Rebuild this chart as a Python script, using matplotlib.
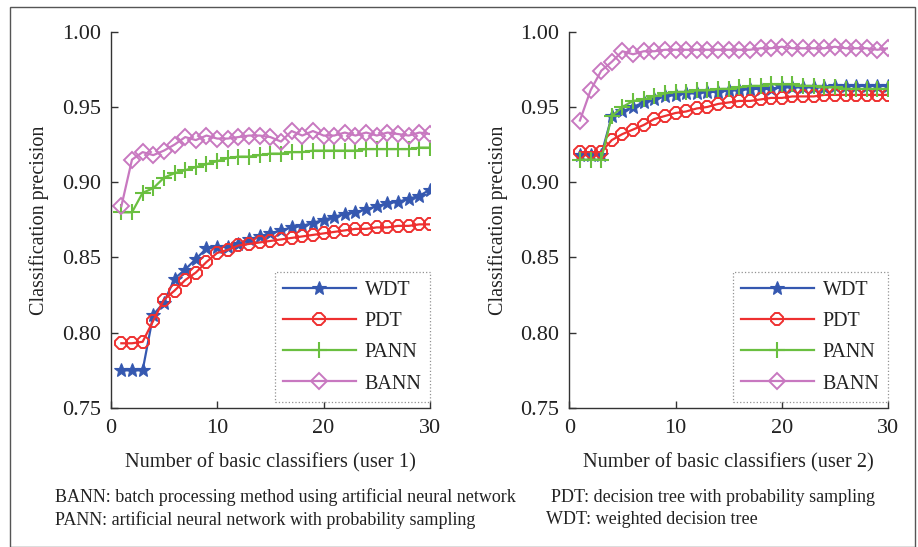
import matplotlib
matplotlib.use("Agg")
import matplotlib.pyplot as plt
from matplotlib.patches import Rectangle
from matplotlib.lines import Line2D

x = list(range(1, 31))

# User 1
wdt1 = [0.775, 0.775, 0.775, 0.812, 0.820, 0.836, 0.842, 0.849, 0.856, 0.857,
        0.857, 0.859, 0.862, 0.864, 0.866, 0.868, 0.870, 0.871, 0.873, 0.875,
        0.877, 0.879, 0.880, 0.882, 0.884, 0.886, 0.887, 0.889, 0.891, 0.895]
pdt1 = [0.793, 0.793, 0.794, 0.808, 0.822, 0.828, 0.835, 0.840, 0.847, 0.853,
        0.855, 0.858, 0.859, 0.860, 0.861, 0.862, 0.863, 0.864, 0.865, 0.866,
        0.867, 0.868, 0.869, 0.869, 0.870, 0.870, 0.871, 0.871, 0.872, 0.872]
pann1 = [0.880, 0.880, 0.893, 0.896, 0.903, 0.906, 0.908, 0.910, 0.912, 0.914,
         0.916, 0.917, 0.917, 0.918, 0.919, 0.919, 0.920, 0.920, 0.921, 0.921,
         0.921, 0.921, 0.921, 0.922, 0.922, 0.922, 0.922, 0.922, 0.923, 0.923]
bann1 = [0.884, 0.915, 0.920, 0.918, 0.921, 0.925, 0.930, 0.928, 0.931, 0.929,
         0.929, 0.930, 0.931, 0.931, 0.930, 0.927, 0.934, 0.931, 0.934, 0.931,
         0.931, 0.933, 0.931, 0.933, 0.931, 0.933, 0.932, 0.931, 0.933, 0.932]

# User 2
wdt2 = [0.918, 0.918, 0.918, 0.944, 0.947, 0.950, 0.953, 0.955, 0.957, 0.958,
        0.959, 0.959, 0.960, 0.960, 0.961, 0.961, 0.962, 0.962, 0.962, 0.963,
        0.963, 0.963, 0.963, 0.963, 0.964, 0.964, 0.964, 0.964, 0.964, 0.964]
pdt2 = [0.920, 0.920, 0.920, 0.928, 0.932, 0.935, 0.938, 0.942, 0.944, 0.946,
        0.947, 0.949, 0.950, 0.952, 0.953, 0.954, 0.954, 0.955, 0.956, 0.956,
        0.957, 0.957, 0.957, 0.958, 0.958, 0.958, 0.958, 0.958, 0.958, 0.958]
pann2 = [0.915, 0.915, 0.915, 0.944, 0.950, 0.954, 0.955, 0.957, 0.959, 0.960,
         0.960, 0.961, 0.961, 0.962, 0.962, 0.963, 0.964, 0.964, 0.965, 0.965,
         0.965, 0.964, 0.964, 0.963, 0.963, 0.962, 0.962, 0.962, 0.962, 0.962]
bann2 = [0.941, 0.961, 0.974, 0.980, 0.987, 0.985, 0.987, 0.987, 0.988, 0.988,
         0.988, 0.988, 0.988, 0.988, 0.988, 0.988, 0.988, 0.989, 0.989, 0.990,
         0.989, 0.989, 0.989, 0.989, 0.990, 0.989, 0.989, 0.989, 0.988, 0.989]

series_names = ["WDT", "PDT", "PANN", "BANN"]
colors = ["#3558b0", "#ee3030", "#6abf40", "#c878c0"]
markers = ["*", "8", "+", "D"]

yticks = [0.75, 0.80, 0.85, 0.90, 0.95, 1.00]
xticks = [0, 10, 20, 30]
xlabels = ["Number of basic classifiers (user 1)", "Number of basic classifiers (user 2)"]
ylabel = "Classification precision"
notes_left = ["BANN: batch processing method using artificial neural network",
              "PANN: artificial neural network with probability sampling"]
notes_right = ["PDT: decision tree with probability sampling",
               "WDT: weighted decision tree"]

plt.rcParams['font.family'] = ['Liberation Serif', 'DejaVu Serif']
W, H = 918, 547
fig = plt.figure(figsize=(W / 100, H / 100), dpi=100)

# outer frame
fig.patches.append(Rectangle((10 / W, 0), 905 / W, 1 - 7 / H, transform=fig.transFigure,
                             fill=False, edgecolor="#555555", linewidth=1.0))

txtc = "#222222"
axes_px = [(110.7, 430.0), (569.3, 888.0)]
ytop, ybot = 31.7, 408.0

data = [[wdt1, pdt1, pann1, bann1], [wdt2, pdt2, pann2, bann2]]

def style_kw(i):
    kw = dict(color=colors[i], marker=markers[i], linewidth=1.6)
    if markers[i] == "*":
        kw.update(markersize=10, markerfacecolor=colors[i], markeredgewidth=0.8)
    elif markers[i] == "8":
        kw.update(markersize=9, markerfacecolor="none", markeredgewidth=1.4)
    elif markers[i] == "+":
        kw.update(markersize=12, markeredgewidth=1.5)
    else:
        kw.update(markersize=8.5, markerfacecolor="none", markeredgewidth=1.4)
    return kw

for k, (x0, x1) in enumerate(axes_px):
    ax = fig.add_axes([x0 / W, 1 - ybot / H, (x1 - x0) / W, (ybot - ytop) / H])
    for i, ys in enumerate(data[k]):
        ax.plot(x, ys, label=series_names[i], **style_kw(i))
    ax.set_xlim(0, 30)
    ax.set_ylim(0.75, 1.00)
    ax.set_xticks(xticks)
    ax.set_yticks(yticks)
    ax.set_yticklabels([f"{v:.2f}" for v in yticks])
    for s in ["top", "right"]:
        ax.spines[s].set_visible(False)
    for s in ["left", "bottom"]:
        ax.spines[s].set_color("#333333")
        ax.spines[s].set_linewidth(1.0)
    ax.tick_params(direction="in", length=5, width=1.0, colors="#333333",
                   labelsize=16, labelcolor=txtc)
    ax.tick_params(axis="y", pad=7)
    ax.tick_params(axis="x", pad=8)
    ax.set_xlabel(xlabels[k], fontsize=14.7, color=txtc, labelpad=11)
    ax.set_ylabel(ylabel, fontsize=14.5, color=txtc, labelpad=9)
    ax.patch.set_alpha(0)
    handles = [Line2D([], [], **style_kw(i)) for i in range(4)]
    leg = ax.legend(handles, series_names, loc="lower right", bbox_to_anchor=(1.0, 0.016),
                    borderaxespad=0.0,
                    fontsize=14.5, frameon=True, fancybox=False, handlelength=3.6,
                    labelspacing=0.6, borderpad=0.42, handletextpad=0.45,
                    labelcolor=txtc)
    fr = leg.get_frame()
    fr.set_edgecolor("#777777")
    fr.set_linestyle(":")
    fr.set_linewidth(0.9)

fs_note = 13
fig.text(55 / W, 1 - 497 / H, notes_left[0], fontsize=fs_note, color=txtc, va="center")
fig.text(55 / W, 1 - 520 / H, notes_left[1], fontsize=fs_note, color=txtc, va="center")
fig.text(551 / W, 1 - 497 / H, notes_right[0], fontsize=fs_note, color=txtc, va="center")
fig.text(546 / W, 1 - 520 / H, notes_right[1], fontsize=fs_note, color=txtc, va="center")

fig.savefig("out.png", dpi=100, facecolor="white")
